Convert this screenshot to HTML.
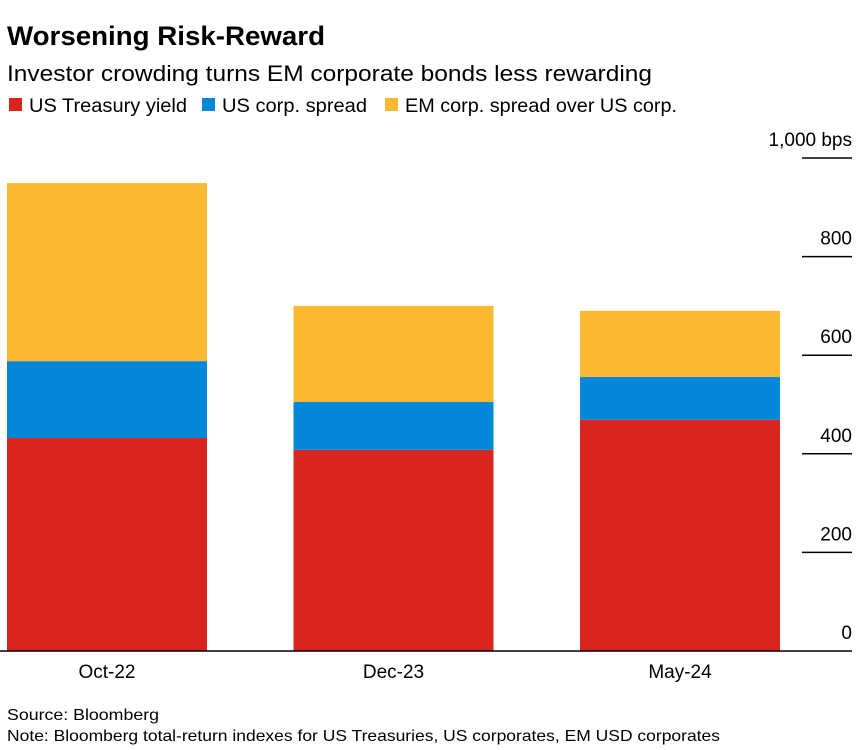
<!DOCTYPE html>
<html><head><meta charset="utf-8"><style>
body{margin:0;background:#fff;font-family:"Liberation Sans",Arial,sans-serif;}
svg{display:block}
</style></head><body>
<svg width="866" height="750" xmlns="http://www.w3.org/2000/svg" id="chart">
<text x="7" y="45" font-size="27" font-weight="bold" fill="#000" textLength="318" lengthAdjust="spacingAndGlyphs">Worsening Risk-Reward</text>
<text x="7" y="81" font-size="22" fill="#000" textLength="645" lengthAdjust="spacingAndGlyphs">Investor crowding turns EM corporate bonds less rewarding</text>
<g>
<rect x="9" y="98" width="13" height="13" fill="#da251f"/>
<text x="29" y="112" font-size="19" textLength="158" lengthAdjust="spacingAndGlyphs">US Treasury yield</text>
<rect x="202" y="98" width="13" height="13" fill="#0387d9"/>
<text x="222" y="112" font-size="19" textLength="145" lengthAdjust="spacingAndGlyphs">US corp. spread</text>
<rect x="385" y="98" width="13" height="13" fill="#fbb832"/>
<text x="405" y="112" font-size="19" textLength="272" lengthAdjust="spacingAndGlyphs">EM corp. spread over US corp.</text>
</g>
<g id="bars"></g>
<g id="axis"></g>
<line x1="0" y1="651" x2="852" y2="651" stroke="#000" stroke-width="1.5"/>
<g id="xlabels"></g>
<text x="7" y="720" font-size="16" textLength="152" lengthAdjust="spacingAndGlyphs">Source: Bloomberg</text>
<text x="7" y="741" font-size="16" textLength="713" lengthAdjust="spacingAndGlyphs">Note: Bloomberg total-return indexes for US Treasuries, US corporates, EM USD corporates</text>
</svg>
<script>
const categories=["Oct-22","Dec-23","May-24"];
const treasury=[432,408,469];
const usSpread=[156,97,87];
const emSpread=[361,195,134];
const ticks=[0,200,400,600,800,1000];
const tickLabels=["0","200","400","600","800","1,000 bps"];
const NS="http://www.w3.org/2000/svg";
const y=v=>651-v*0.493;
const xLeft=i=>7+i*286.5, bw=200;
const bars=document.getElementById('bars');
function rect(x,y0,y1,fill,name){const r=document.createElementNS(NS,'rect');r.setAttribute('x',x);r.setAttribute('y',y(y1));r.setAttribute('width',bw);r.setAttribute('height',y(y0)-y(y1));r.setAttribute('fill',fill);


bars.appendChild(r);}
categories.forEach((c,i)=>{const x=xLeft(i);const a=treasury[i],b=a+usSpread[i],d=b+emSpread[i];
rect(x,0,a,'#da251f','bar-treasury-'+c.toLowerCase());
rect(x,a,b,'#0387d9','bar-us-spread-'+c.toLowerCase());
rect(x,b,d,'#fbb832','bar-em-spread-'+c.toLowerCase());
const t=document.createElementNS(NS,'text');t.setAttribute('x',x+bw/2);t.setAttribute('y',678);t.setAttribute('font-size','19');t.setAttribute('text-anchor','middle');t.textContent=c;


document.getElementById('xlabels').appendChild(t);});
const ax=document.getElementById('axis');
ticks.forEach((v,i)=>{if(v>0){const l=document.createElementNS(NS,'line');l.setAttribute('x1',802);l.setAttribute('x2',852);l.setAttribute('y1',y(v));l.setAttribute('y2',y(v));l.setAttribute('stroke','#000');l.setAttribute('stroke-width','1.5');


ax.appendChild(l);}
const t=document.createElementNS(NS,'text');t.setAttribute('x',852);t.setAttribute('y',y(v)-12);t.setAttribute('font-size','19');t.setAttribute('text-anchor','end');t.textContent=tickLabels[i];


ax.appendChild(t);});
</script>
</body></html>
